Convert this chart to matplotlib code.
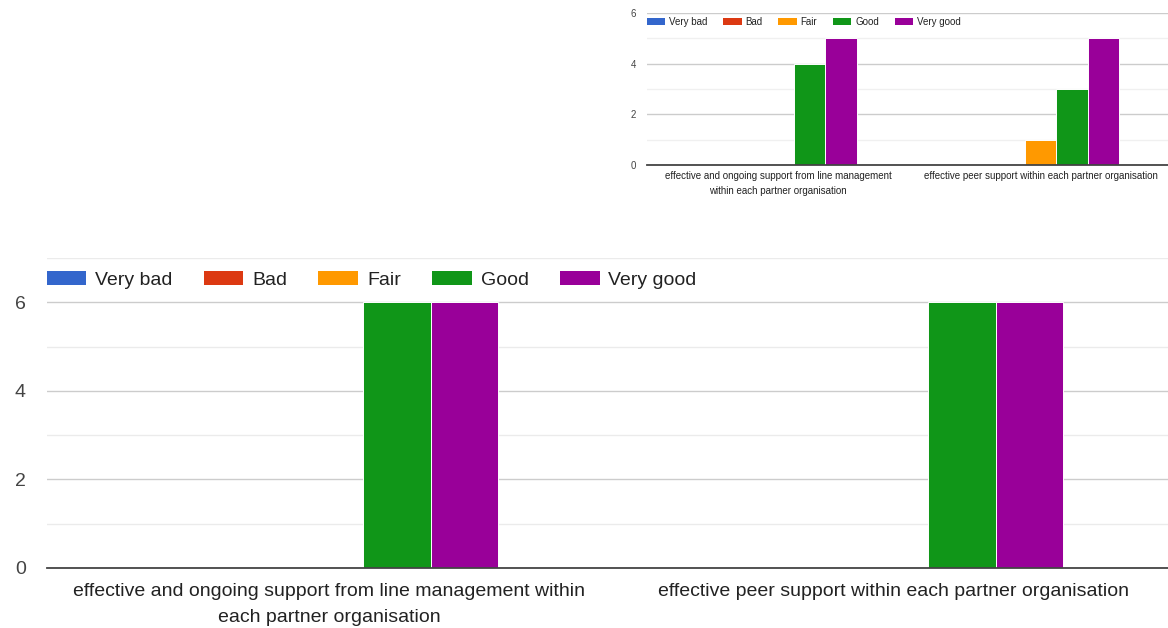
import matplotlib
matplotlib.use("Agg")
import matplotlib.pyplot as plt
import numpy as np
from matplotlib.patches import Patch

plt.rcParams['font.family'] = ['Liberation Sans', 'DejaVu Sans']

categories = ["effective and ongoing support from line management\nwithin each partner organisation",
              "effective peer support within each partner organisation"]
categories_big = ["effective and ongoing support from line management within\neach partner organisation",
                  "effective peer support within each partner organisation"]
series = ["Very bad", "Bad", "Fair", "Good", "Very good"]
colors = ["#3366cc", "#dc3912", "#ff9900", "#109618", "#990099"]

# small (top) chart values per series: [cat0, cat1]
top_values = {
    "Very bad": [0, 0],
    "Bad": [0, 0],
    "Fair": [0, 1],
    "Good": [4, 3],
    "Very good": [5, 5],
}
# large (bottom) chart values as visible
bottom_values = {
    "Very bad": [0, 0],
    "Bad": [0, 0],
    "Fair": [0, 0],
    "Good": [6, 6],
    "Very good": [6, 6],
}
yticks = [0, 2, 4, 6]

W, H = 1168, 628
fig = plt.figure(figsize=(W / 100, H / 100), dpi=100)


def draw(ax, values, labels, ymax, fs, tickpad, labelpad, linesp, leg_y, hl, htp, cs, minor_col):
    x = np.arange(len(labels))
    bw = 0.12
    for i, s in enumerate(series):
        ax.bar(x + (i - 2) * bw, values[s], width=bw, color=colors[i],
               edgecolor='white', linewidth=0.7, zorder=3)
    ax.set_xlim(-0.5, 1.485)
    ax.set_ylim(0, ymax)
    ax.set_yticks(yticks)
    ax.set_yticks([v for v in range(1, ymax + 1, 2)], minor=True)
    ax.set_xticks(x)
    ax.set_xticklabels(labels, fontsize=fs, color='#222222')
    for t in ax.get_xticklabels():
        t.set_linespacing(linesp)
    ax.tick_params(axis='x', length=0, pad=labelpad)
    ax.tick_params(axis='y', which='both', length=0, pad=tickpad, labelsize=fs, labelcolor='#444444')
    ax.grid(axis='y', which='major', color='#cccccc', linewidth=1.0, zorder=0)
    ax.grid(axis='y', which='minor', color=minor_col, linewidth=1.0, zorder=0)
    for sp in ['top', 'right', 'left']:
        ax.spines[sp].set_visible(False)
    ax.spines['bottom'].set_color('#444444')
    ax.spines['bottom'].set_linewidth(1.3)
    ax.spines['bottom'].set_zorder(4)
    handles = [Patch(facecolor=c, edgecolor='none') for c in colors]
    ax.legend(handles, series, loc='center left', bbox_to_anchor=(0, leg_y), ncol=5,
              frameon=False, fontsize=fs, borderaxespad=0, borderpad=0,
              handlelength=hl, handleheight=0.7, handletextpad=htp, columnspacing=cs,
              labelcolor='#222222')


# bottom large chart
ax2 = fig.add_axes([46.5 / W, 60 / H, 1121.5 / W, 310 / H])
draw(ax2, bottom_values, categories_big, 7, 14, 15, 11, 1.7, 0.929, 2.05, 0.45, 1.6, '#ebebeb')

# top small chart
ax1 = fig.add_axes([647 / W, 463 / H, 521 / W, 152 / H])
draw(ax1, top_values, categories, 6, 7, 8, 4.5, 1.55, 0.941, 1.9, 0.4, 1.6, '#f0f0f0')

fig.savefig("out.png", dpi=100)
